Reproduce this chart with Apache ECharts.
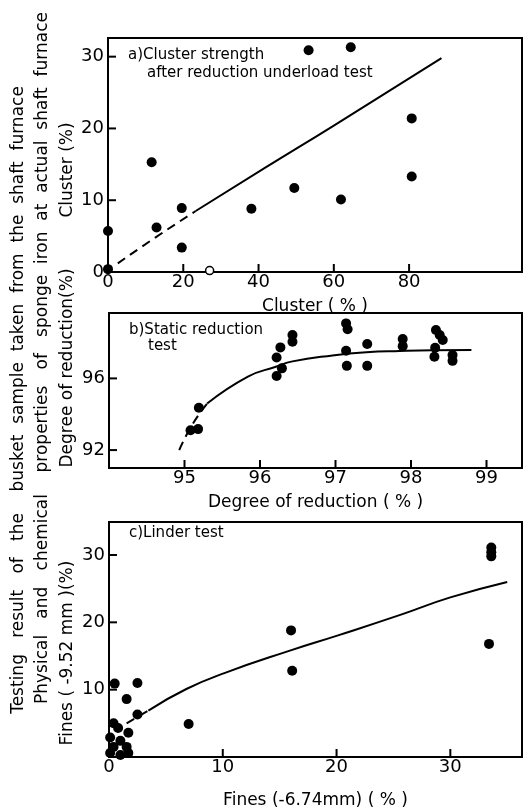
<!DOCTYPE html>
<html>
<head>
<meta charset="utf-8">
<script src="https://cdn.jsdelivr.net/npm/echarts@6/dist/echarts.min.js"></script>
<style>
  html, body { margin: 0; padding: 0; background: #fff; }
  #main { width: 528px; height: 810px; }
</style>
</head>
<body>
<div id="main"></div>
<script>
// a) cluster strength
var aPoints = [[0, 5.7], [0, 0.4], [11.6, 15.3], [12.9, 6.2], [19.6, 8.9], [19.6, 3.4],
  [38.1, 8.8], [49.5, 11.7], [53.3, 30.9], [61.9, 10.1], [64.5, 31.3], [80.7, 21.4], [80.7, 13.3]];
var aOpen = [[27, 0.2]];
var aFitDash = [[2.6, 1.2], [12, 4.6], [23.3, 8.5]];
var aFit = [[23.3, 8.5], [42, 14.6], [60, 20.4], [88.6, 29.8]];
var aXTicks = [0, 20, 40, 60, 80];
var aYTicks = [0, 10, 20, 30];

// b) static reduction test
var bPoints = [[97.14, 99.07], [97.16, 98.74], [97.14, 97.54], [97.15, 96.7], [97.42, 97.92], [97.42, 96.7],
  [97.89, 98.2], [97.89, 97.8], [98.33, 98.7], [98.38, 98.42], [98.42, 98.14], [98.32, 97.71],
  [98.31, 97.21], [98.55, 97.3], [98.55, 96.98], [96.22, 97.17], [96.27, 97.73], [96.29, 96.56],
  [96.22, 96.13], [96.43, 98.42], [96.43, 98.05], [95.19, 94.36], [95.08, 93.11], [95.18, 93.17]];
var bFitDash = [[94.93, 92.0], [95.1, 93.4], [95.3, 94.6]];
var bFit = [[95.3, 94.6], [95.84, 96.1], [96.21, 96.65], [96.43, 96.95], [96.96, 97.28],
  [97.41, 97.46], [97.85, 97.53], [98.29, 97.57], [98.8, 97.58]];
var bXTicks = [95, 96, 97, 98, 99];
var bYTicks = [92, 96];

// c) Linder test
var cPoints = [[33.6, 31.1], [33.6, 30.4], [33.6, 29.8], [33.4, 16.8], [16.0, 18.8], [16.1, 12.8],
  [7.0, 4.9], [2.5, 11.0], [2.5, 6.3], [0.5, 10.9], [1.55, 8.6],
  [0.4, 5.0], [0.8, 4.3], [1.7, 3.6], [0.1, 2.9], [1.0, 2.4], [0.4, 1.5], [1.55, 1.5],
  [0.1, 0.6], [1.0, 0.3], [1.7, 0.6]];
var cFitDash = [[1.55, 5.0], [3.46, 6.9]];
var cFit = [[3.46, 6.9], [6.8, 10.1], [10.2, 12.5], [15.9, 15.8], [20.2, 18.1], [25.6, 21.1], [30, 23.7], [35, 26.0]];
var cXLabels = [0, 10, 20, 30];
var cXTicks = [10, 20, 30];
var cYTicks = [10, 20, 30];

var FONT = 'DejaVu Sans';
var chart = echarts.init(document.getElementById('main'));

function xAx(idx, min, max, labels, name, gap) {
    return {
        type: 'value', gridIndex: idx, min: min, max: max, position: 'bottom',
        name: name, nameLocation: 'middle', nameGap: gap,
        nameTextStyle: {color: '#000', fontSize: 17, fontFamily: FONT},
        splitLine: {show: false},
        axisLine: {show: true, onZero: false, lineStyle: {color: '#000', width: 2}},
        axisTick: {show: false},
        axisLabel: {show: true, color: '#000', fontSize: 18, fontFamily: FONT, margin: 1, customValues: labels}
    };
}
function yAx(idx, min, max, labels) {
    return {
        type: 'value', gridIndex: idx, min: min, max: max, position: 'left',
        splitLine: {show: false},
        axisLine: {show: true, onZero: false, lineStyle: {color: '#000', width: 2}},
        axisTick: {show: false},
        axisLabel: {show: true, color: '#000', fontSize: 18, fontFamily: FONT, margin: 4, customValues: labels}
    };
}
function dots(idx, data) {
    return {type: 'scatter', xAxisIndex: idx, yAxisIndex: idx, data: data, symbolSize: 10,
        itemStyle: {color: '#000', opacity: 1}, z: 3};
}
function fit(idx, data, dashed) {
    return {type: 'line', xAxisIndex: idx, yAxisIndex: idx, data: data, smooth: true, showSymbol: false,
        lineStyle: {color: '#000', width: 2, type: dashed ? [9, 6] : 'solid'}, z: 2};
}
function txt(x, y, s, size, rot, align) {
    return {type: 'text', x: x, y: y, rotation: rot || 0,
        style: {text: s, fill: '#000', font: size + 'px "' + FONT + '"',
            textAlign: align || 'center', textVerticalAlign: 'middle'}};
}

var xRanges = [[0, 110], [94, 99.47], [0, 36.3]];
var yRanges = [[0, 32.6], [91, 99.65], [0, 34.9]];

var labels = [
    txt(19, 400, 'Testing   result   of   the    busket  sample  taken  from  the  shaft  furnace', 17, Math.PI / 2),
    txt(43, 358, 'Physical   and   chemical    properties   of   sponge  iron  at  actual  shaft  furnace', 17, Math.PI / 2),
    txt(68, 170, 'Cluster (%)', 17, Math.PI / 2),
    txt(68, 368, 'Degree of reduction(%)', 17, Math.PI / 2),
    txt(68, 653, 'Fines ( -9.52 mm )(%)', 17, Math.PI / 2),
    txt(128, 55, 'a)Cluster strength', 15, 0, 'left'),
    txt(147, 73, 'after reduction underload test', 15, 0, 'left'),
    txt(129, 330, 'b)Static reduction', 15, 0, 'left'),
    txt(148, 346, 'test', 15, 0, 'left'),
    txt(129, 533, 'c)Linder test', 15, 0, 'left')
];

var option = {
    animation: false,
    grid: [
        {left: 108, right: 6, top: 38, height: 234, show: true, borderColor: '#000', borderWidth: 2},
        {left: 109, right: 6, top: 313, height: 155, show: true, borderColor: '#000', borderWidth: 2},
        {left: 109, right: 6, top: 522, height: 247, show: true, borderColor: '#000', borderWidth: 2}
    ],
    xAxis: [
        xAx(0, xRanges[0][0], xRanges[0][1], aXTicks, 'Cluster ( % )', 26),
        xAx(1, xRanges[1][0], xRanges[1][1], bXTicks, 'Degree of reduction ( % )', 26),
        xAx(2, xRanges[2][0], xRanges[2][1], cXLabels, 'Fines (-6.74mm) ( % )', 35)
    ],
    yAxis: [
        yAx(0, yRanges[0][0], yRanges[0][1], aYTicks),
        yAx(1, yRanges[1][0], yRanges[1][1], bYTicks),
        yAx(2, yRanges[2][0], yRanges[2][1], cYTicks)
    ],
    series: [
        dots(0, aPoints),
        {type: 'scatter', xAxisIndex: 0, yAxisIndex: 0, data: aOpen, symbolSize: 8, z: 4,
            itemStyle: {color: '#fff', borderColor: '#000', borderWidth: 1.5, opacity: 1}},
        fit(0, aFitDash, true),
        fit(0, aFit, false),
        dots(1, bPoints),
        fit(1, bFitDash, true),
        fit(1, bFit, false),
        dots(2, cPoints),
        fit(2, cFitDash, true),
        fit(2, cFit, false)
    ],
    graphic: labels
};
chart.setOption(option);

// inward tick marks, placed through each grid's own scales
var xTickSets = [aXTicks, bXTicks, cXTicks];
var yTickSets = [aYTicks, bYTicks, cYTicks];
var ticks = [];
for (var g = 0; g < 3; g++) {
    xTickSets[g].forEach(function (v) {
        var p = chart.convertToPixel({gridIndex: g}, [v, yRanges[g][0]]);
        ticks.push({type: 'line', z: 10, shape: {x1: p[0], y1: p[1], x2: p[0], y2: p[1] - 8},
            style: {stroke: '#000', lineWidth: 2}});
    });
    yTickSets[g].forEach(function (v) {
        var p = chart.convertToPixel({gridIndex: g}, [xRanges[g][0], v]);
        ticks.push({type: 'line', z: 10, shape: {x1: p[0], y1: p[1], x2: p[0] + 8, y2: p[1]},
            style: {stroke: '#000', lineWidth: 2}});
    });
}
chart.setOption({graphic: labels.concat(ticks)});
</script>
</body>
</html>
